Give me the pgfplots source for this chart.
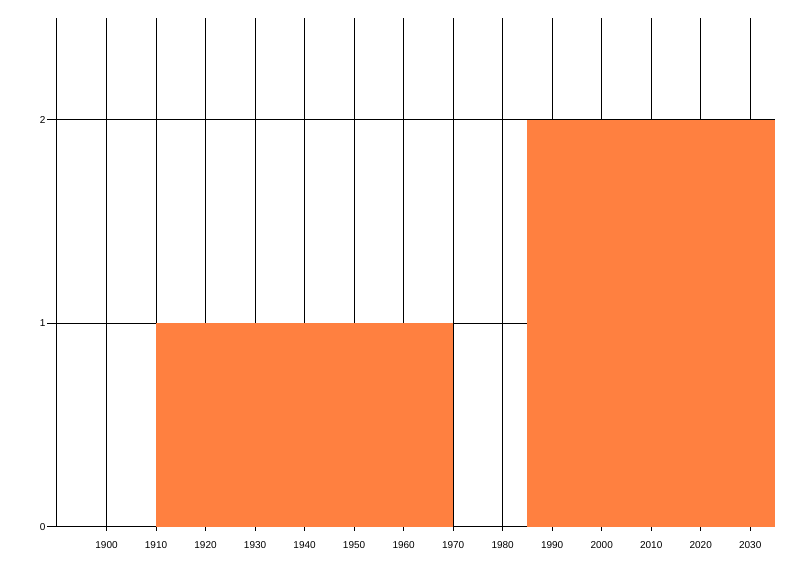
\documentclass[border=0pt]{standalone}
\usepackage{pgfplots}
\pgfplotsset{compat=1.18}
\usepackage{fontspec}
\setmainfont{Liberation Sans}
\definecolor{barorange}{RGB}{255,128,64}

\begin{document}
\begin{tikzpicture}
    \fontsize{7.5}{9}\selectfont
    \begin{axis}[
            scale only axis,
            width = 538.5pt,
            height = 381.75pt,
            xmin = 1890,
            xmax = 2035,
            ymin = 0,
            ymax = 2.5,
            xtick = {1900,1910,...,2030},
            ytick = {0,1,2},
            axis x line* = bottom,
            axis y line* = left,
            axis line style = {black, line width=0.75pt},
            xmajorgrids,
            ymajorgrids,
            grid style = {black, line width=0.75pt},
            tick align = outside,
            major tick length = 7.5pt,
            xtick style = {black, line width=0.75pt, /pgfplots/major tick length=3pt},
            ytick style = {black, line width=0.75pt},
            xticklabel style = {inner sep=1pt, yshift=-2pt},
            yticklabel style = {inner sep=1pt},
            /pgf/number format/assume math mode=true,
            /pgf/number format/1000 sep={},
            tick label style = {font=\fontsize{7.5}{9}\selectfont},
            clip = false,
        ]
        % bar 1910-1970, height 1
        \addplot [fill = barorange, draw = none]
        coordinates {
                (1910, 0)
                (1910, 1)
                (1970, 1)
                (1970, 0)
            } -- cycle;
        % bar 1985-2035, height 2
        \addplot [fill = barorange, draw = none]
        coordinates {
                (1985, 0)
                (1985, 2)
                (2035, 2)
                (2035, 0)
            } -- cycle;
    \end{axis}
    \path (current axis.south west) +(-42.75pt,-36.75pt)
          (current axis.north east) +(18.75pt,13.5pt);
\end{tikzpicture}
\end{document}
